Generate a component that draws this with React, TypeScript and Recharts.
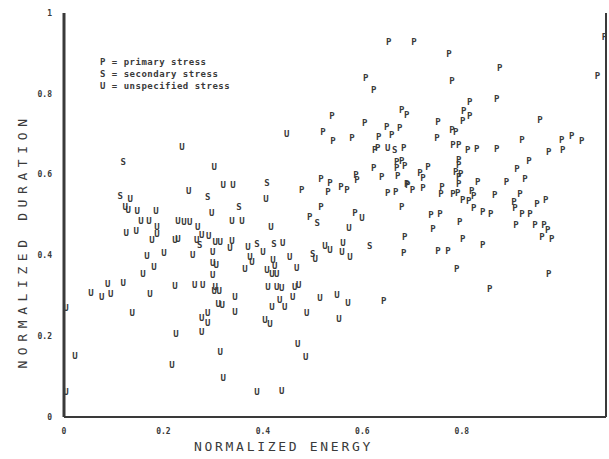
import { ScatterChart, Scatter, XAxis, YAxis, ReferenceLine } from "recharts";

// normalized energy / normalized duration pairs
const primary: [number, number][] = [
  [0.539, 0.745], [0.605, 0.728], [0.521, 0.705], [0.541, 0.683], [0.579, 0.691],
  [0.649, 0.718], [0.675, 0.715], [0.679, 0.76], [0.689, 0.747], [0.633, 0.693],
  [0.659, 0.698], [0.625, 0.661], [0.631, 0.666], [0.683, 0.666], [0.669, 0.631],
  [0.679, 0.634], [0.669, 0.616], [0.685, 0.621], [0.623, 0.616], [0.587, 0.599],
  [0.589, 0.587], [0.639, 0.594], [0.671, 0.596], [0.716, 0.604], [0.722, 0.592],
  [0.732, 0.619], [0.517, 0.589], [0.535, 0.579], [0.531, 0.557], [0.557, 0.569],
  [0.569, 0.562], [0.478, 0.562], [0.651, 0.554], [0.667, 0.557], [0.691, 0.574],
  [0.701, 0.562], [0.722, 0.567], [0.517, 0.52], [0.494, 0.495], [0.585, 0.505],
  [0.679, 0.52], [0.685, 0.446], [0.683, 0.406], [0.653, 0.928], [0.704, 0.928],
  [0.774, 0.898], [0.876, 0.864], [0.78, 0.832], [1.087, 0.941], [1.073, 0.844],
  [0.816, 0.78], [0.87, 0.787], [0.804, 0.757], [0.816, 0.745], [0.802, 0.733],
  [0.752, 0.73], [0.957, 0.735], [0.78, 0.71], [0.788, 0.705], [0.75, 0.691],
  [0.782, 0.673], [0.794, 0.673], [0.812, 0.661], [0.83, 0.663], [0.87, 0.663],
  [0.921, 0.686], [1.001, 0.686], [1.021, 0.695], [1.041, 0.683], [0.975, 0.656],
  [1.003, 0.661], [0.935, 0.634], [0.911, 0.614], [0.927, 0.589], [0.89, 0.582],
  [0.794, 0.636], [0.794, 0.624], [0.788, 0.606], [0.798, 0.601], [0.794, 0.594],
  [0.832, 0.582], [0.794, 0.577], [0.76, 0.569], [0.758, 0.552], [0.782, 0.552],
  [0.792, 0.554], [0.82, 0.559], [0.824, 0.547], [0.866, 0.549], [0.917, 0.552],
  [0.969, 0.537], [0.802, 0.537], [0.814, 0.535], [0.824, 0.517], [0.905, 0.532],
  [0.907, 0.517], [0.951, 0.527], [0.738, 0.5], [0.756, 0.502], [0.796, 0.483],
  [0.842, 0.507], [0.858, 0.502], [0.921, 0.502], [0.937, 0.502], [0.742, 0.465],
  [0.909, 0.475], [0.947, 0.475], [0.965, 0.475], [0.973, 0.463], [0.961, 0.446],
  [0.981, 0.441], [0.802, 0.441], [0.842, 0.426], [0.752, 0.411], [0.772, 0.411],
  [0.79, 0.366], [0.975, 0.354], [0.856, 0.317], [0.607, 0.839], [0.623, 0.809],
  [0.643, 0.287], [0.689, 0.577],
];

const secondary: [number, number][] = [
  [0.119, 0.631], [0.113, 0.547], [0.289, 0.545], [0.352, 0.52], [0.273, 0.426],
  [0.388, 0.428], [0.408, 0.579], [0.422, 0.428], [0.5, 0.403], [0.509, 0.48],
  [0.615, 0.423], [0.665, 0.661],
];

const unspecified: [number, number][] = [
  [0.302, 0.619], [0.32, 0.574], [0.34, 0.574], [0.251, 0.559], [0.133, 0.54],
  [0.123, 0.52], [0.129, 0.512], [0.147, 0.51], [0.185, 0.51], [0.297, 0.505],
  [0.155, 0.485], [0.171, 0.485], [0.229, 0.485], [0.241, 0.483], [0.253, 0.483],
  [0.338, 0.485], [0.358, 0.485], [0.187, 0.47], [0.269, 0.47], [0.125, 0.455],
  [0.145, 0.46], [0.187, 0.453], [0.277, 0.45], [0.291, 0.448], [0.177, 0.438],
  [0.223, 0.438], [0.229, 0.441], [0.267, 0.438], [0.304, 0.433], [0.314, 0.433],
  [0.338, 0.436], [0.334, 0.418], [0.37, 0.421], [0.299, 0.408], [0.201, 0.406],
  [0.259, 0.401], [0.167, 0.398], [0.299, 0.381], [0.306, 0.376], [0.374, 0.396],
  [0.378, 0.384], [0.181, 0.371], [0.364, 0.366], [0.299, 0.351], [0.159, 0.354],
  [0.088, 0.329], [0.119, 0.332], [0.223, 0.324], [0.263, 0.327], [0.279, 0.327],
  [0.304, 0.322], [0.054, 0.307], [0.076, 0.297], [0.094, 0.304], [0.173, 0.304],
  [0.302, 0.312], [0.312, 0.312], [0.344, 0.297], [0.31, 0.28], [0.318, 0.277],
  [0.344, 0.26], [0.004, 0.27], [0.137, 0.257], [0.289, 0.257], [0.277, 0.245],
  [0.289, 0.233], [0.225, 0.205], [0.277, 0.21], [0.022, 0.151], [0.314, 0.161],
  [0.217, 0.129], [0.32, 0.097], [0.004, 0.062], [0.388, 0.062], [0.448, 0.7],
  [0.406, 0.54], [0.599, 0.493], [0.573, 0.468], [0.416, 0.47], [0.561, 0.431],
  [0.559, 0.408], [0.575, 0.396], [0.525, 0.423], [0.535, 0.413], [0.505, 0.391],
  [0.454, 0.396], [0.468, 0.369], [0.42, 0.389], [0.424, 0.374], [0.408, 0.364],
  [0.418, 0.354], [0.428, 0.354], [0.44, 0.431], [0.4, 0.408], [0.41, 0.322],
  [0.428, 0.322], [0.438, 0.319], [0.464, 0.322], [0.472, 0.327], [0.434, 0.29],
  [0.46, 0.297], [0.515, 0.295], [0.549, 0.302], [0.571, 0.282], [0.418, 0.272],
  [0.444, 0.272], [0.488, 0.257], [0.404, 0.24], [0.414, 0.23], [0.553, 0.243],
  [0.47, 0.181], [0.486, 0.149], [0.438, 0.064], [0.237, 0.668], [0.651, 0.666],
];

const xTicks = [0, 0.2, 0.4, 0.6, 0.8];
const yTicks = [0, 0.2, 0.4, 0.6, 0.8, 1];
const legendLines = ["P = primary stress", "S = secondary stress", "U = unspecified stress"];

const ink = "#3a3a3a";

const toPoints = (arr: [number, number][]) => arr.map(([x, y]) => ({ x, y }));

const letter = (ch: string) => (props: any) => (
  <text
    x={props.cx}
    y={props.cy}
    textAnchor="middle"
    dominantBaseline="central"
    fontFamily="DejaVu Sans Mono"
    fontWeight="bold"
    fontSize={9}
    fill={ink}
  >
    {ch}
  </text>
);

const fmt = (v: number) => (v === 0 ? "0" : v === 1 ? "1" : v.toFixed(1));

export default function App() {
  return (
    <div style={{ position: "absolute", left: 0, top: 0, width: 609, height: 459, background: "#fff" }}>
      <ScatterChart width={609} height={459} margin={{ top: 13, right: 3, bottom: 12, left: 4 }}>
        <XAxis
          type="number"
          dataKey="x"
          domain={[0, 1.09]}
          ticks={xTicks}
          tickFormatter={fmt}
          height={30}
          tickLine={false}
          tickMargin={5}
          axisLine={{ stroke: ink, strokeWidth: 2 }}
          tick={{ fontSize: 8, fill: ink, fontFamily: "DejaVu Sans Mono", fontWeight: "bold" }}
          allowDataOverflow
        />
        <YAxis
          type="number"
          dataKey="y"
          domain={[0, 1]}
          ticks={yTicks}
          tickFormatter={fmt}
          width={60}
          tickLine={false}
          tickMargin={6}
          axisLine={{ stroke: ink, strokeWidth: 3 }}
          tick={{ fontSize: 8, fill: ink, fontFamily: "DejaVu Sans Mono", fontWeight: "bold" }}
          allowDataOverflow
        />
        <ReferenceLine x={1.09} stroke={ink} strokeWidth={2} />
        <Scatter data={toPoints(primary)} shape={letter("P")} isAnimationActive={false} />
        <Scatter data={toPoints(secondary)} shape={letter("S")} isAnimationActive={false} />
        <Scatter data={toPoints(unspecified)} shape={letter("U")} isAnimationActive={false} />
      </ScatterChart>
      <div
        style={{
          position: "absolute",
          left: 100,
          top: 56,
          fontFamily: "DejaVu Sans Mono",
          fontWeight: "bold",
          fontSize: 9,
          letterSpacing: 0.5,
          lineHeight: "12px",
          color: ink,
          whiteSpace: "pre",
        }}
      >
        {legendLines.map((t) => (
          <div key={t}>{t}</div>
        ))}
      </div>
      <div
        style={{
          position: "absolute",
          left: 0,
          width: 567,
          top: 439,
          textAlign: "center",
          fontFamily: "DejaVu Sans Mono",
          fontSize: 13,
          letterSpacing: 2.7,
          color: ink,
        }}
      >
        NORMALIZED ENERGY
      </div>
      <div
        style={{
          position: "absolute",
          left: 22,
          top: 241,
          transform: "translate(-50%, -50%) rotate(-90deg)",
          fontFamily: "DejaVu Sans Mono",
          fontSize: 13,
          letterSpacing: 5.6,
          color: ink,
          whiteSpace: "nowrap",
        }}
      >
        NORMALIZED DURATION
      </div>
    </div>
  );
}
